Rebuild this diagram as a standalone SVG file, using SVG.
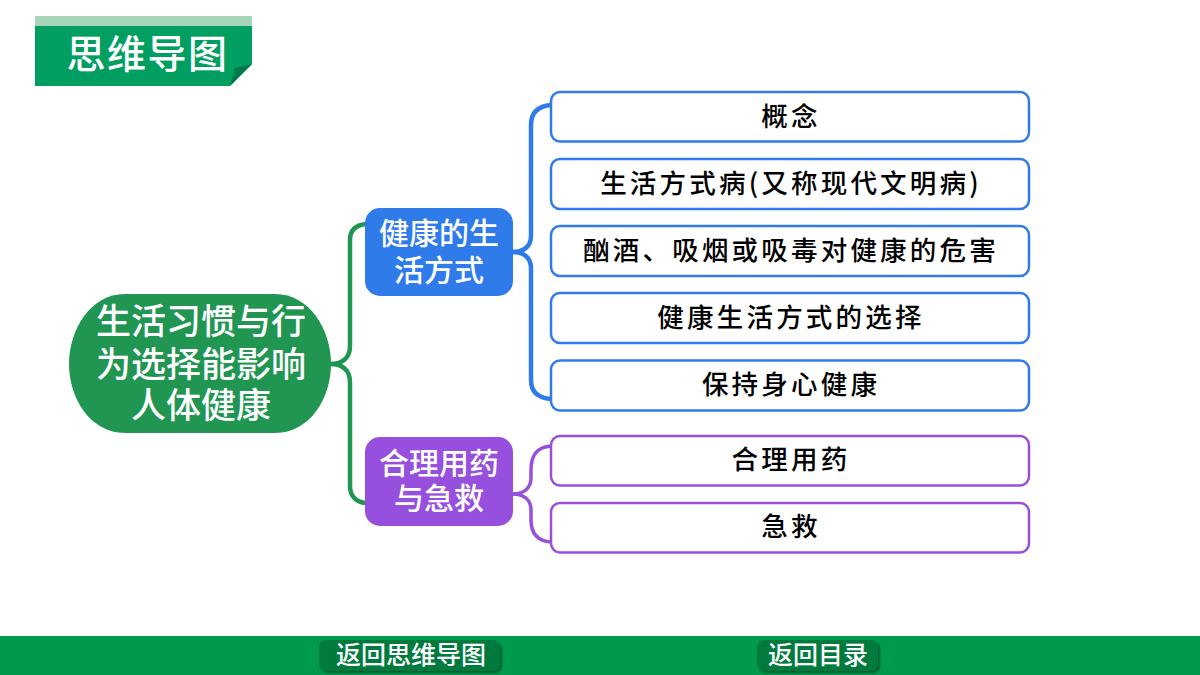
<svg xmlns="http://www.w3.org/2000/svg" width="1200" height="675" viewBox="0 0 1200 675">
<defs>
<style>
text{font-family:"Noto Sans CJK SC","Noto Sans",sans-serif;text-anchor:middle}
.w{fill:#fff;font-weight:500}
.main{font-size:35px}
.sub{font-size:30px}
.leaf{font-size:26.500px;fill:#000;font-weight:500;letter-spacing:3.200px}
.nav{font-size:25px;fill:#fff;font-weight:500}
.b{fill:#fff;stroke:#2f7bea;stroke-width:2.500}
.p{fill:#fff;stroke:#9650dd;stroke-width:2.500}
.c{fill:none;stroke-linecap:butt}
</style>
<filter id="s" x="-10%" y="-20%" width="120%" height="140%"><feDropShadow dx="2" dy="2" stdDeviation="1.200" flood-color="#000" flood-opacity=".4"/></filter>
</defs>
<rect width="1200" height="675" fill="#fff"/>
<g id="title">
<rect x="35" y="16" width="217" height="10" fill="#a6d5b9"/>
<path d="M35 26H252V64L230 86H35Z" fill="#009e60"/>
<path d="M252 64L235 68L230 86Z" fill="#007a4a"/>
<text class="w" x="147.500" y="68" font-size="39" letter-spacing="1.500">思维导图</text>
</g>
<g id="connectors">
<path class="c" stroke="#219653" stroke-width="4.500" d="M331 364C342 364 350 358 350 346V240C350 230 356 225 366 224"/>
<path class="c" stroke="#219653" stroke-width="4.500" d="M331 364C342 364 350 370 350 382V486C350 496 356 502 366 503"/>
<path class="c" stroke="#2f7bea" stroke-width="4.500" d="M513 252C524 252 531 246 531 236V125C531 112 538 106 551 105"/>
<path class="c" stroke="#2f7bea" stroke-width="4.500" d="M513 252C524 252 531 258 531 268V380C531 392 538 398 551 399"/>
<path class="c" stroke="#9650dd" stroke-width="3.500" d="M513 494C524 494 531 488 531 478V470C531 454 538 447 551 446"/>
<path class="c" stroke="#9650dd" stroke-width="3.500" d="M513 494C524 494 531 500 531 510V520C531 534 538 541 551 542"/>
</g>
<g id="root">
<path d="M125 294H275C310 294 331 330 331 364C331 398 310 433 275 433H125C90 433 69 398 69 364C69 330 90 294 125 294Z" fill="#219653"/>
<text class="w main" x="201"><tspan x="201" y="334">生活习惯与行</tspan><tspan x="201" y="377">为选择能影响</tspan><tspan x="201" y="418">人体健康</tspan></text>
</g>
<g id="branch-lifestyle">
<rect x="365" y="208" width="148" height="88" rx="15" fill="#2f7bea"/>
<text class="w sub" x="439"><tspan x="439" y="244">健康的生</tspan><tspan x="439" y="281">活方式</tspan></text>
</g>
<g id="branch-medicine">
<rect x="365" y="437" width="148" height="89" rx="15" fill="#9650dd"/>
<text class="w sub" x="439"><tspan x="439" y="474">合理用药</tspan><tspan x="439" y="509">与急救</tspan></text>
</g>
<g id="leaf-1"><rect class="b" x="551" y="92" width="478" height="49.500" rx="9"/><text class="leaf" x="791" y="126">概念</text></g>
<g id="leaf-2"><rect class="b" x="551" y="159" width="478" height="50" rx="9"/><text class="leaf" x="791" y="193">生活方式病(又称现代文明病)</text></g>
<g id="leaf-3"><rect class="b" x="551" y="226" width="478" height="50" rx="9"/><text class="leaf" x="791" y="260">酗酒、吸烟或吸毒对健康的危害</text></g>
<g id="leaf-4"><rect class="b" x="551" y="293" width="478" height="50" rx="9"/><text class="leaf" x="791" y="327">健康生活方式的选择</text></g>
<g id="leaf-5"><rect class="b" x="551" y="360.500" width="478" height="50" rx="9"/><text class="leaf" x="791" y="394">保持身心健康</text></g>
<g id="leaf-6"><rect class="p" x="551" y="436" width="478" height="49.500" rx="9"/><text class="leaf" x="791" y="469">合理用药</text></g>
<g id="leaf-7"><rect class="p" x="551" y="503" width="478" height="49.500" rx="9"/><text class="leaf" x="791" y="536">急救</text></g>
<g id="footer">
<rect x="0" y="636" width="1200" height="39" fill="#009a4e"/>
<g id="nav-map"><rect x="319" y="640" width="181" height="31" rx="7" fill="#007a3d" filter="url(#s)"/>
<text class="nav" x="411" y="664">返回思维导图</text></g>
<g id="nav-toc"><rect x="757" y="640" width="121" height="31" rx="7" fill="#007a3d" filter="url(#s)"/>
<text class="nav" x="818" y="664">返回目录</text></g>
</g>
</svg>
